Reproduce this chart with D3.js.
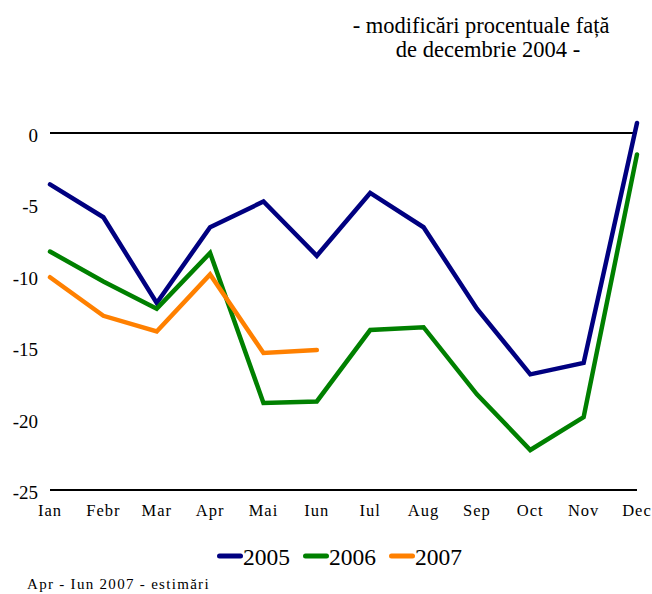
<style>
	body { margin: 0; }
</style>
<svg width="652" height="594"></svg>

<script src="https://d3js.org/d3.v7.min.js"></script>
<script>
	// procentual changes vs Dec 2004
	const months = ["Ian", "Febr", "Mar", "Apr", "Mai", "Iun", "Iul", "Aug", "Sep", "Oct", "Nov", "Dec"]
	const s2005 = [-3.6, -5.9, -11.9, -6.6, -4.8, -8.6, -4.2, -6.6, -12.3, -16.9, -16.1, 0.7]
	const s2006 = [-8.3, -10.4, -12.3, -8.4, -18.9, -18.8, -13.8, -13.6, -18.3, -22.2, -19.9, -1.5]
	const s2007 = [-10.1, -12.8, -13.9, -9.9, -15.4, -15.2]
	const yTicks = [0, -5, -10, -15, -20, -25]
	const seriesNames = ["2005", "2006", "2007"]
	const colors = ["#000080", "#008000", "#ff8000"]

	const series = [s2005, s2006, s2007].map((v, i) => ({name: seriesNames[i], values: v, color: colors[i]}))
	const serif = '"Liberation Serif"'

	const svg = d3.select(document.querySelector('svg'))
		.style("display", "block")
		.style("background", "#fff")

	const x = d3.scalePoint().domain(months).range([50, 637])
	const y = d3.scaleLinear().domain([-25, 0]).range([490, 133])

	// title
	svg.append("text").attr("x", 481).attr("y", 33).attr("text-anchor", "middle")
		.style("font-family", serif).attr("font-size", 22.5).text("- modificări procentuale față")
	svg.append("text").attr("x", 488).attr("y", 57).attr("text-anchor", "middle")
		.style("font-family", serif).attr("font-size", 22.5).text("de decembrie 2004 -")

	// y labels
	svg.append("g").selectAll("text")
		.data(yTicks)
		.join("text")
			.style("font-family", serif)
			.attr("x", 38)
			.attr("y", d => y(d) + 9)
			.attr("text-anchor", "end")
			.attr("font-size", 19)
			.text(d => d)

	// zero line and bottom line
	svg.append("line").attr("x1", x("Ian")).attr("x2", x("Dec")).attr("y1", y(0)).attr("y2", y(0))
		.attr("stroke", "#000").attr("stroke-width", 2)
	svg.append("line").attr("x1", x("Ian")).attr("x2", x("Dec")).attr("y1", y(-25)).attr("y2", y(-25))
		.attr("stroke", "#000").attr("stroke-width", 2)

	// x labels
	svg.append("g").selectAll("text")
		.data(months)
		.join("text")
			.style("font-family", serif)
			.style("letter-spacing", "1px")
			.attr("x", d => x(d))
			.attr("y", 516)
			.attr("text-anchor", "middle")
			.attr("font-size", 16.5)
			.text(d => d)

	const line = d3.line()
		.x((d, i) => x(months[i]))
		.y(d => y(d))

	svg.append("g").selectAll("path")
		.data(series)
		.join("path")
			.attr("d", d => line(d.values))
			.attr("fill", "none")
			.attr("stroke", d => d.color)
			.attr("stroke-width", 4.5)
			.attr("stroke-linejoin", "miter")
			.attr("stroke-linecap", "round")

	// legend
	const legend = svg.append("g").selectAll("g")
		.data(series)
		.join("g")
			.attr("transform", (d, i) => `translate(${217 + i * 86},556)`)
	legend.append("line")
		.attr("x1", 2.5).attr("x2", 23.5)
		.attr("stroke", d => d.color)
		.attr("stroke-width", 5)
		.attr("stroke-linecap", "round")
	legend.append("text")
		.style("font-family", serif)
		.attr("x", 26)
		.attr("y", 8.5)
		.attr("font-size", 23.5)
		.text(d => d.name)

	svg.append("text").attr("x", 27).attr("y", 589)
		.style("font-family", serif).style("letter-spacing", "1.3px")
		.attr("font-size", 15).text("Apr - Iun 2007 - estimări")
</script>
